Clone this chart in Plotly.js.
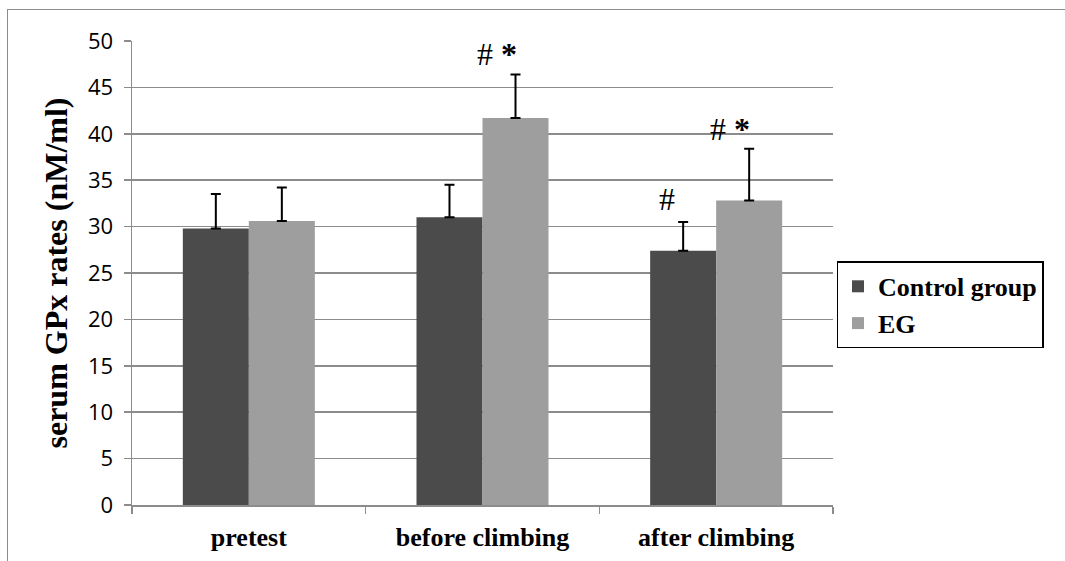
<!DOCTYPE html>
<html>
<head>
<meta charset="utf-8">
<script src="https://cdn.plot.ly/plotly-3.0.1.min.js"></script>
<style>
  html, body { margin: 0; padding: 0; background: #ffffff; overflow: hidden; }
  #frame { position: absolute; left: 7px; top: 9px; width: 1100px; height: 600px; border: 1.5px solid #8c8c8c; }
  #chart { position: absolute; left: 0; top: 0; width: 1065px; height: 561px; }
</style>
</head>
<body>
<div id="frame"></div>
<div id="chart"></div>
<script>
// ---- data ----
const categories = ["pretest", "before climbing", "after climbing"];
const controlValues = [29.8, 31.0, 27.4];
const controlErrors = [3.7, 3.5, 3.1];
const egValues = [30.6, 41.7, 32.8];
const egErrors = [3.6, 4.7, 5.6];
const seriesNames = ["Control group", "EG"];
const yTicks = [0, 5, 10, 15, 20, 25, 30, 35, 40, 45, 50];
// significance marks: [category, series index, text]
const marks = [
  ["before climbing", 1, "# <b>*</b>"],
  ["after climbing", 0, "#"],
  ["after climbing", 1, "# <b>*</b>"]
];

const serif = "Liberation Serif, Times New Roman, serif";
const sans = "Open Sans, Liberation Sans, sans-serif";

const traces = [
  {
    type: "bar", name: seriesNames[0], x: categories, y: controlValues,
    marker: { color: "#4b4b4b" }, legendgroup: "a",
    error_y: { type: "data", array: controlErrors, arrayminus: controlErrors.map(() => 0), symmetric: false, color: "#000000", thickness: 2, width: 5 }
  },
  {
    type: "bar", name: seriesNames[1], x: categories, y: egValues,
    marker: { color: "#9e9e9e" }, legendgroup: "b",
    error_y: { type: "data", array: egErrors, arrayminus: egErrors.map(() => 0), symmetric: false, color: "#000000", thickness: 2, width: 5 }
  }
];

const vals = [controlValues, egValues];
const errs = [controlErrors, egErrors];
const annotations = marks.map(m => {
  const i = categories.indexOf(m[0]);
  const s = m[1];
  return {
    x: m[0], y: vals[s][i] + errs[s][i], xref: "x", yref: "y",
    text: m[2], showarrow: false, yanchor: "bottom",
    xshift: (s === 0 ? -33 : 33) - (m[2] === "#" ? 16 : 19), yshift: (m[2] === "#" ? 3 : 0),
    font: { family: serif, size: 32, color: "#000000" }
  };
});

const layout = {
  width: 1065, height: 561,
  paper_bgcolor: "rgba(0,0,0,0)", plot_bgcolor: "rgba(0,0,0,0)",
  margin: { l: 132, r: 232, t: 41, b: 56 },
  barmode: "group", bargap: 0.435, bargroupgap: 0,
  showlegend: true,
  legend: {
    x: 1.005, y: 0.525, xanchor: "left", yanchor: "top",
    bordercolor: "#000000", borderwidth: 1.5, bgcolor: "#ffffff",
    font: { family: serif, size: 26, color: "#000000", weight: "bold" },
    traceorder: "grouped", tracegroupgap: 0, itemwidth: 30
  },
  xaxis: {
    type: "category", showgrid: false, showline: true, linecolor: "#8c8c8c", linewidth: 1.5,
    ticks: "outside", tickson: "boundaries", ticklen: 7, tickcolor: "#8c8c8c", tickwidth: 1.5,
    tickfont: { family: serif, size: 26, color: "#000000", weight: "bold" },
    ticklabelstandoff: 8,
    zeroline: false
  },
  yaxis: {
    range: [0, 50], tickvals: yTicks, ticktext: yTicks.map(String),
    showgrid: true, gridcolor: "#8c8c8c", gridwidth: 1.5,
    showline: true, linecolor: "#8c8c8c", linewidth: 1.5,
    ticks: "outside", ticklen: 7, tickcolor: "#8c8c8c", tickwidth: 1.5,
    tickfont: { family: sans, size: 22, color: "#000000" },
    ticklabelstandoff: 6,
    zeroline: false,
    title: { text: "serum GPx rates (nM/ml)", font: { family: serif, size: 32, color: "#000000", weight: "bold" }, standoff: 10 }
  },
  annotations: annotations
};

Plotly.newPlot("chart", traces, layout, { displayModeBar: false, staticPlot: true });
</script>
</body>
</html>
